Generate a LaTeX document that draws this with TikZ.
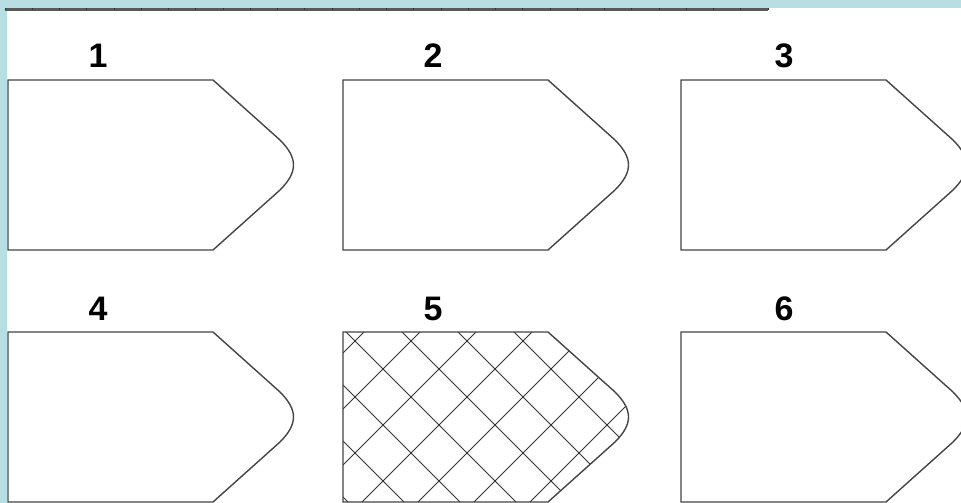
\documentclass[tikz,border=0pt]{standalone}
\usepackage{fontspec}
\setmainfont{Liberation Sans}
\definecolor{Sky}{HTML}{B7DFE3}
\definecolor{Edge}{HTML}{454545}
\definecolor{Hatch}{HTML}{333333}
\newcommand{\tipoutline}[2]{(#1,#2) -- ++(205,0) -- ++(67,60)
  .. controls +(18,18) and +(18,-18) .. ++(0,50)
  -- ++(-67,60) -- ++(-205,0) -- cycle}

\begin{document}
\begin{tikzpicture}[x=1pt,y=-1pt,
    outline/.style={draw=Edge,line width=1.4pt,line join=miter},
    hatchline/.style={draw=Hatch,line width=1pt},
    numlabel/.style={font=\fontsize{34}{36}\selectfont\bfseries,inner sep=0pt}]
  \useasboundingbox (0,0) rectangle (961,503);
  \clip (0,0) rectangle (961,503);
  \fill[Sky] (0,0) rectangle (961,503);
  \fill[white] (7,8) rectangle (961,503);

  % ruler along the top edge
  \draw[black!65,line width=3pt] (5,9.5) -- (768,9.5);
  \foreach \i in {0,...,28}
    \draw[black!80,line width=0.7pt] ({5+\i*27.25},8) -- ++(0,2.5);

  % plain blanks
  \foreach \L/\T in {8/80,343/80,681/80,8/332,681/332}
    \draw[outline] \tipoutline{\L}{\T};

  % blank 5, cross-hatched
  \begin{scope}
    \clip \tipoutline{343}{332};
    \foreach \k in {-4,...,6}
      \draw[hatchline] ({14+56*\k+320},320) -- ({14+56*\k+520},520);
    \foreach \k in {11,...,20}
      \draw[hatchline] ({24+56*\k-320},320) -- ({24+56*\k-520},520);
  \end{scope}
  \draw[outline] \tipoutline{343}{332};

  \node[numlabel] (lab1) at (98,56) {1};
  \node[numlabel] (lab2) at (433,56) {2};
  \node[numlabel] (lab3) at (784,56) {3};
  \node[numlabel] (lab4) at (98,309) {4};
  \node[numlabel] (lab5) at (433,309) {5};
  \node[numlabel] (lab6) at (784,309) {6};
\end{tikzpicture}
\end{document}
